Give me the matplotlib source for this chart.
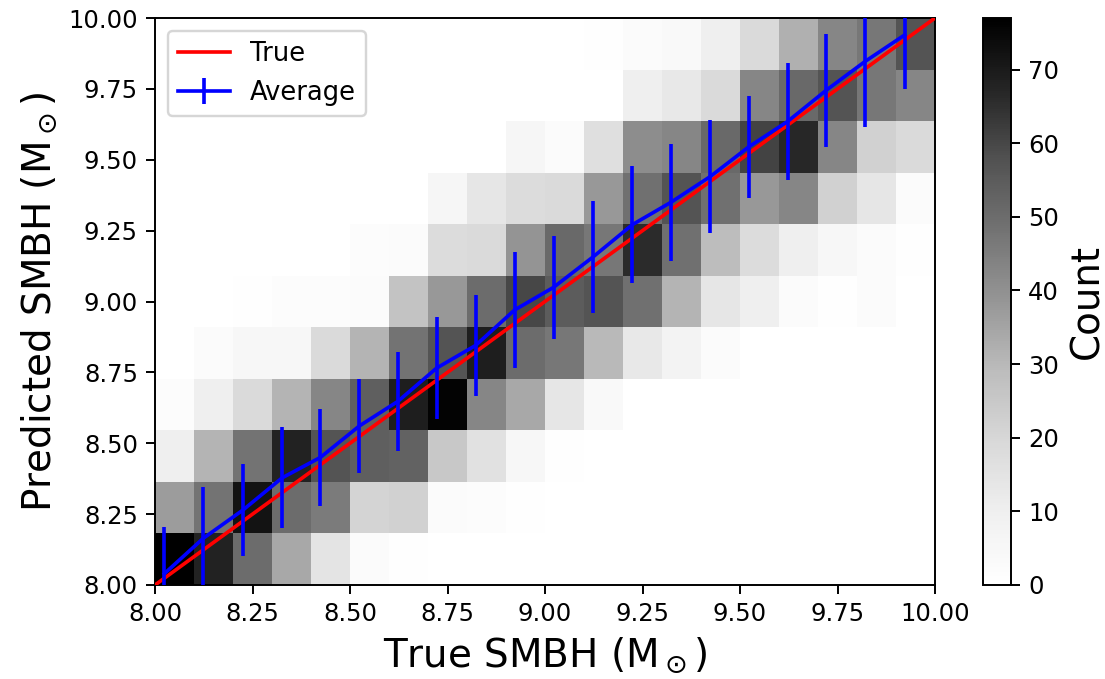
import numpy as np
import matplotlib
matplotlib.use("Agg")
import matplotlib.pyplot as plt

S = 1.75  # scale from a 175-dpi original
plt.rcParams.update({
    "font.family": "DejaVu Sans",
    "font.size": 10 * S,
    "axes.linewidth": 0.8 * S,
    "xtick.major.size": 3.5 * S, "ytick.major.size": 3.5 * S,
    "xtick.major.width": 0.8 * S, "ytick.major.width": 0.8 * S,
    "xtick.major.pad": 3.5 * S, "ytick.major.pad": 3.5 * S,
    "xtick.labelsize": 10 * S, "ytick.labelsize": 10 * S,
    "axes.labelsize": 16 * S, "axes.labelpad": 4 * S,
    "lines.linewidth": 1.5 * S,
    "patch.linewidth": 1.0 * S,
    "legend.fontsize": 18.5,
})

# ---- data ----
x_edges = np.linspace(8.0, 10.0, 21)   # 20 true-mass bins
y_edges = np.linspace(8.0, 10.0, 12)   # 11 predicted-mass bins

# counts per row (bottom row first), 20 columns each
row0 = [77, 68, 50, 34, 15, 3, 1, 0, 0, 0, 0, 0, 0, 0, 0, 0, 0, 0, 0, 0]
row1 = [37, 48, 72, 50, 46, 21, 22, 3, 2, 1, 0, 0, 0, 0, 0, 0, 0, 0, 0, 0]
row2 = [10, 31, 48, 68, 57, 54, 53, 25, 16, 5, 1, 0, 0, 0, 0, 0, 0, 0, 0, 0]
row3 = [2, 10, 19, 31, 43, 54, 69, 76, 43, 34, 14, 4, 0, 0, 0, 0, 0, 0, 0, 0]
row4 = [0, 3, 5, 5, 19, 31, 48, 57, 69, 50, 47, 30, 13, 8, 3, 0, 0, 0, 0, 0]
row5 = [0, 0, 1, 2, 2, 3, 27, 38, 50, 60, 55, 57, 49, 31, 14, 10, 3, 1, 3, 0]
row6 = [0, 0, 0, 0, 0, 2, 3, 18, 19, 39, 51, 47, 66, 49, 29, 18, 10, 5, 3, 1]
row7 = [0, 0, 0, 0, 0, 0, 0, 6, 14, 18, 19, 38, 49, 57, 49, 38, 43, 22, 14, 3]
row8 = [0, 0, 0, 0, 0, 0, 0, 0, 0, 6, 3, 17, 41, 43, 51, 61, 67, 43, 22, 19]
row9 = [0, 0, 0, 0, 0, 0, 0, 0, 0, 0, 0, 0, 10, 13, 19, 43, 51, 57, 47, 43]
row10 = [0, 0, 0, 0, 0, 0, 0, 0, 0, 0, 0, 1, 3, 4, 10, 19, 32, 43, 47, 57]
counts = np.array([row0, row1, row2, row3, row4, row5, row6, row7, row8, row9, row10])

# average predicted mass per true-mass bin
avg_x = [8.024, 8.124, 8.226, 8.326, 8.424, 8.524, 8.623, 8.722, 8.822, 8.922,
         9.022, 9.123, 9.224, 9.323, 9.423, 9.522, 9.622, 9.721, 9.820, 9.922]
avg_y = [8.040, 8.165, 8.265, 8.378, 8.450, 8.561, 8.648, 8.765, 8.845, 8.970,
         9.050, 9.157, 9.271, 9.350, 9.440, 9.545, 9.635, 9.745, 9.846, 9.940]
avg_err = [0.165, 0.180, 0.162, 0.178, 0.171, 0.165, 0.175, 0.181, 0.178, 0.203,
           0.181, 0.197, 0.207, 0.206, 0.200, 0.180, 0.207, 0.200, 0.229, 0.190]

true_x = [8.0, 10.0]
true_y = [8.0, 10.0]

# ---- figure ----
W, H = 1105, 679
fig = plt.figure(figsize=(W / 100, H / 100), dpi=100)
ax = fig.add_axes([155 / W, 1 - 585 / H, (935 - 155) / W, (585 - 18) / H])
cax = fig.add_axes([983 / W, 1 - 585 / H, 28 / W, (585 - 18) / H])

mesh = ax.pcolormesh(x_edges, y_edges, counts, cmap="Greys",
                     vmin=0, vmax=counts.max())
ax.plot(true_x, true_y, color="red", label="True", zorder=3)
ax.errorbar(avg_x, avg_y, yerr=avg_err, color="blue", label="Average", zorder=4)

ax.set_xlim(8.0, 10.0)
ax.set_ylim(8.0, 10.0)
ax.set_xticks(np.arange(8.0, 10.01, 0.25))
ax.set_yticks(np.arange(8.0, 10.01, 0.25))
ax.xaxis.set_major_formatter(matplotlib.ticker.FormatStrFormatter("%.2f"))
ax.yaxis.set_major_formatter(matplotlib.ticker.FormatStrFormatter("%.2f"))
ax.set_xlabel(r"True SMBH ($\rm M_\odot$)")
ax.set_ylabel(r"Predicted SMBH ($\rm M_\odot$)")
ax.legend(loc="upper left")

cb = fig.colorbar(mesh, cax=cax)
cb.set_ticks(np.arange(0, 71, 10))
cb.set_label("Count")
cb.outline.set_linewidth(0.8 * S)

fig.savefig("out.png", dpi=100)
